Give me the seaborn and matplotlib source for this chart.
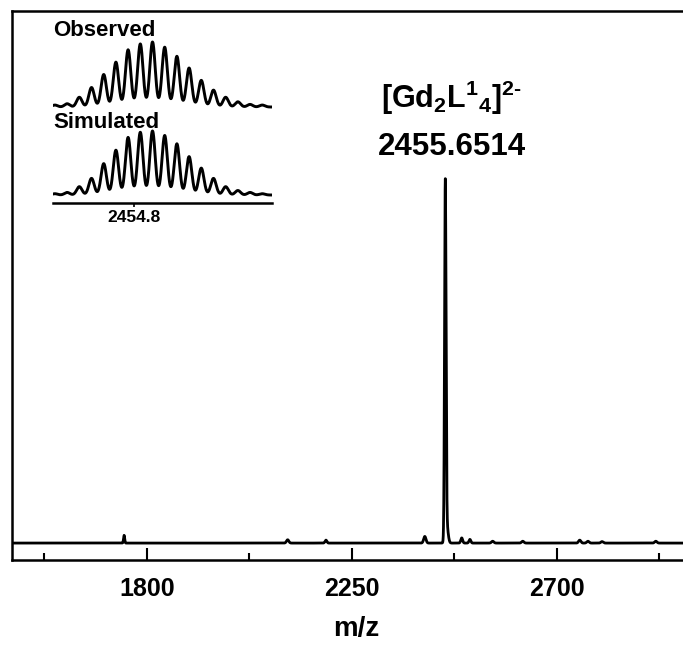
import numpy as np
import pandas as pd
import matplotlib
matplotlib.use("Agg")
import matplotlib.pyplot as plt
import seaborn as sns

# ---------------- data ----------------
# main spectrum: peak list (m/z, relative intensity, width sigma)
peak_mz = [1750, 2109, 2193, 2410, 2455, 2458, 2491, 2509, 2559, 2625, 2750, 2768, 2799, 2917]
peak_int = [2.1, 0.9, 0.8, 1.8, 96.0, 5.0, 1.4, 1.0, 0.5, 0.5, 0.8, 0.5, 0.4, 0.5]
peak_sig = [1.2, 2.5, 2.0, 2.5, 1.6, 3.0, 2.0, 2.0, 2.5, 2.5, 2.5, 2.5, 2.5, 2.5]

# isotope pattern (inset): m/z of isotopes and relative heights
iso_mz = [2451.55, 2452.05, 2452.55, 2453.05, 2453.55, 2454.05, 2454.55, 2455.05,
          2455.55, 2456.05, 2456.55, 2457.05, 2457.55, 2458.05, 2458.55, 2459.05,
          2459.55, 2460.05]
iso_obs = [0.03, 0.05, 0.15, 0.30, 0.50, 0.69, 0.88, 0.97, 1.00, 0.92, 0.78, 0.60,
           0.41, 0.26, 0.15, 0.08, 0.04, 0.03]
iso_sim = [0.02, 0.04, 0.13, 0.26, 0.49, 0.70, 0.90, 0.98, 1.00, 0.93, 0.80, 0.60,
           0.42, 0.26, 0.13, 0.07, 0.04, 0.02]

xticks_major = [1800, 2250, 2700]
xticks_minor = [1575, 2025, 2475, 2925]
inset_tick = [2454.8]
ion_label = r"$[Gd_2L^1{}_4]^{2\text{-}}$"
mz_label = "2455.6514"

# ---------------- style ----------------
sns.set_style("white")
plt.rcParams["font.family"] = ["Liberation Sans", "DejaVu Sans"]
plt.rcParams["font.weight"] = "bold"
plt.rcParams["text.color"] = "black"
plt.rcParams["axes.labelcolor"] = "black"
plt.rcParams["xtick.color"] = "black"
plt.rcParams["ytick.color"] = "black"
plt.rcParams["axes.edgecolor"] = "black"
plt.rcParams["mathtext.fontset"] = "custom"
plt.rcParams["mathtext.rm"] = "Liberation Sans:bold"
plt.rcParams["mathtext.bf"] = "Liberation Sans:bold"
plt.rcParams["mathtext.it"] = "Liberation Sans:bold"
plt.rcParams["mathtext.default"] = "bf"

W, H = 683, 664
fig = plt.figure(figsize=(W / 100, H / 100), dpi=100)

def px(x0, y0, x1, y1):
    return [x0 / W, (H - y1) / H, (x1 - x0) / W, (y1 - y0) / H]

# ---------------- main spectrum ----------------
ax = fig.add_axes(px(12, 11, 700, 560))
grid = np.linspace(1504, 3014, 12000)
spec = np.zeros_like(grid)
for m, h, s in zip(peak_mz, peak_int, peak_sig):
    spec += h * np.exp(-0.5 * ((grid - m) / s) ** 2)
df = pd.DataFrame({"mz": grid, "intensity": spec})
sns.lineplot(data=df, x="mz", y="intensity", ax=ax, color="black", linewidth=2.0,
             estimator=None, sort=False)

ax.set_xlim(1504, 3014)
ax.set_ylim(-4.6, 144.6)
ax.set_yticks([])
ax.set_ylabel("")
ax.set_xticks(xticks_major)
ax.set_xticks(xticks_minor, minor=True)
ax.tick_params(axis="x", which="major", direction="in", length=9, width=1.5,
               labelsize=18, pad=12, bottom=True)
ax.tick_params(axis="x", which="minor", direction="in", length=5, width=1.5, bottom=True)
for lab in ax.get_xticklabels():
    lab.set_fontweight("bold")
ax.set_xlabel("m/z", fontsize=20, fontweight="bold", labelpad=11)
for sp in ax.spines.values():
    sp.set_linewidth(1.8)
    sp.set_color("black")

ax.text(2469, 121, ion_label, ha="center", va="center", fontsize=22)
ax.text(2469, 107.6, mz_label, ha="center", va="center", fontsize=22.5, fontweight="bold")

# ---------------- inset ----------------
ins = fig.add_axes(px(53, 25, 272, 203))
ins.patch.set_alpha(0)
g2 = np.linspace(2451.47, 2460.45, 1500)
obs = np.zeros_like(g2)
sim = np.zeros_like(g2)
for m, a, b in zip(iso_mz, iso_obs, iso_sim):
    k = np.exp(-0.5 * ((g2 - m) / 0.11) ** 2)
    obs += a * k
    sim += b * k
dfo = pd.DataFrame({"mz": g2, "y": 96 + 65 * obs})
dfs = pd.DataFrame({"mz": g2, "y": 8 + 64 * sim})
sns.lineplot(data=dfo, x="mz", y="y", ax=ins, color="black", linewidth=2.1,
             estimator=None, sort=False)
sns.lineplot(data=dfs, x="mz", y="y", ax=ins, color="black", linewidth=2.1,
             estimator=None, sort=False)
ins.set_xlim(2451.47, 2460.45)
ins.set_ylim(0, 178)
ins.set_yticks([])
ins.set_xlabel("")
ins.set_ylabel("")
ins.set_xticks(inset_tick)
ins.set_xticklabels([f"{v:.1f}" for v in inset_tick], fontsize=12.5, fontweight="bold")
ins.tick_params(axis="x", direction="out", length=3, width=1.2, pad=2, bottom=True)
for k in ["top", "left", "right"]:
    ins.spines[k].set_visible(False)
ins.spines["bottom"].set_linewidth(1.8)
ins.spines["bottom"].set_color("black")
ins.text(2451.47, 172, "Observed", ha="left", va="center", fontsize=16, fontweight="bold")
ins.text(2451.47, 80, "Simulated", ha="left", va="center", fontsize=16, fontweight="bold")

fig.savefig("out.png", dpi=100)
